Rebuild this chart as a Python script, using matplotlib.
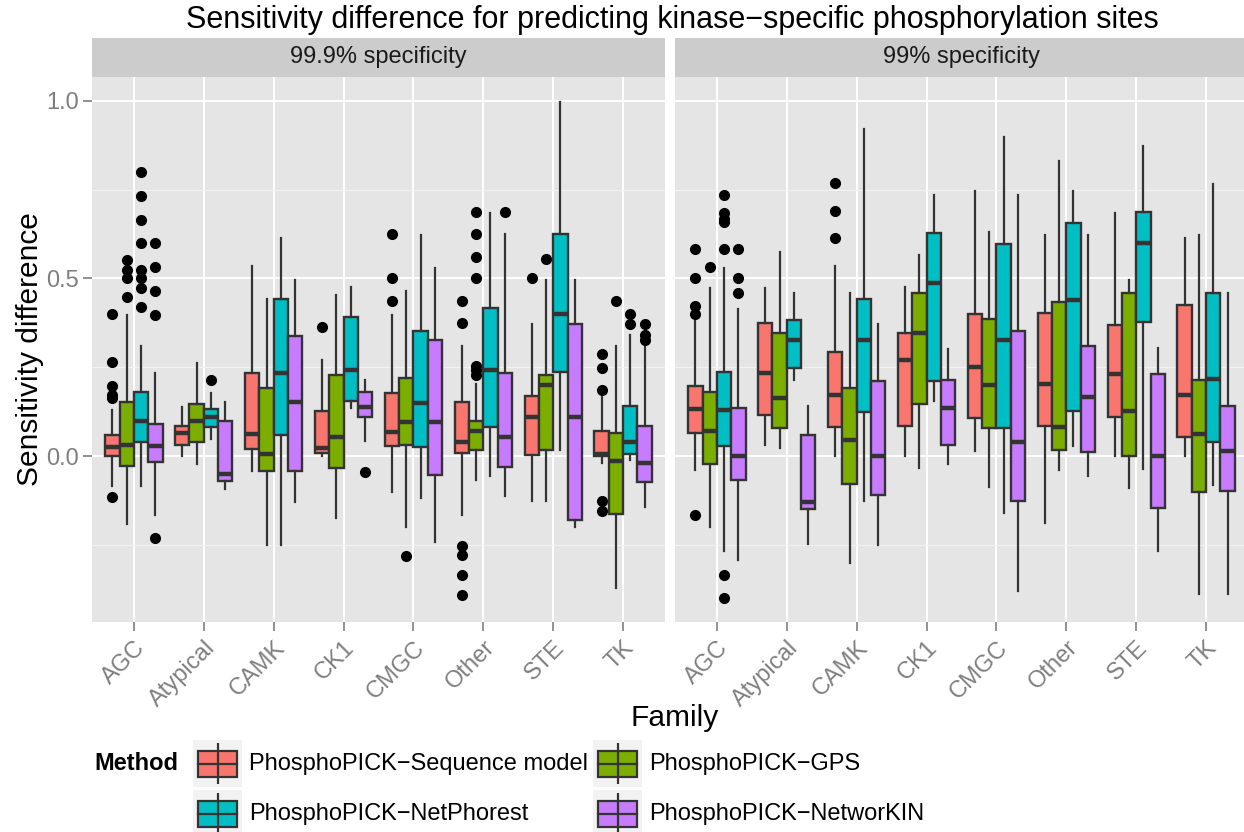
import matplotlib
matplotlib.use("Agg")
import matplotlib.pyplot as plt
from matplotlib.patches import Rectangle

plt.rcParams["font.family"] = ["Liberation Sans", "DejaVu Sans"]

FAMILIES = ["AGC", "Atypical", "CAMK", "CK1", "CMGC", "Other", "STE", "TK"]
METHODS = ["PhosphoPICK\u2212Sequence model", "PhosphoPICK\u2212GPS",
           "PhosphoPICK\u2212NetPhorest", "PhosphoPICK\u2212NetworKIN"]
FACETS = ["99.9% specificity", "99% specificity"]
COLORS = ["#F8766D", "#7CAE00", "#00BFC4", "#C77CFF"]

# five-number summaries per family: (whisker low, q1, median, q3, whisker high)
SEQ_999 = [(-0.083, 0.000, 0.025, 0.060, 0.131), (0.000, 0.032, 0.065, 0.085, 0.137),
           (-0.043, 0.020, 0.062, 0.233, 0.535), (0.000, 0.010, 0.022, 0.128, 0.271),
           (-0.101, 0.027, 0.067, 0.177, 0.397), (-0.167, 0.009, 0.039, 0.153, 0.309),
           (-0.126, 0.002, 0.110, 0.170, 0.372), (-0.020, 0.000, 0.007, 0.072, 0.165)]
GPS_999 = [(-0.192, -0.028, 0.032, 0.151, 0.397), (-0.021, 0.040, 0.098, 0.147, 0.262),
           (-0.249, -0.043, 0.007, 0.191, 0.443), (-0.174, -0.033, 0.054, 0.228, 0.453),
           (-0.199, 0.030, 0.096, 0.221, 0.465), (-0.068, 0.017, 0.072, 0.098, 0.203),
           (-0.126, 0.017, 0.200, 0.228, 0.497), (-0.370, -0.164, -0.013, 0.065, 0.309)]
NET_999 = [(-0.083, 0.039, 0.100, 0.181, 0.309), (0.049, 0.082, 0.111, 0.133, 0.177),
           (-0.249, 0.060, 0.235, 0.443, 0.613), (0.135, 0.156, 0.243, 0.391, 0.477),
           (-0.119, 0.025, 0.150, 0.351, 0.623), (-0.056, 0.082, 0.241, 0.416, 0.684),
           (0.017, 0.238, 0.400, 0.624, 0.996), (-0.010, 0.005, 0.039, 0.141, 0.341)]
KIN_999 = [(-0.167, -0.016, 0.027, 0.090, 0.233), (-0.094, -0.071, -0.051, 0.098, 0.151),
           (-0.129, -0.043, 0.151, 0.339, 0.497), (0.042, 0.111, 0.138, 0.181, 0.213),
           (-0.241, -0.053, 0.095, 0.326, 0.530), (-0.112, -0.030, 0.055, 0.235, 0.624),
           (-0.199, -0.179, 0.110, 0.372, 0.497), (-0.144, -0.073, -0.020, 0.086, 0.319)]

SEQ_99 = [(-0.038, 0.065, 0.133, 0.198, 0.381), (0.030, 0.116, 0.235, 0.374, 0.472),
          (0.000, 0.082, 0.171, 0.292, 0.535), (0.000, 0.085, 0.271, 0.346, 0.477),
          (0.015, 0.108, 0.250, 0.399, 0.746), (-0.187, 0.086, 0.203, 0.402, 0.623),
          (0.000, 0.111, 0.230, 0.368, 0.684), (0.000, 0.055, 0.173, 0.425, 0.614)]
GPS_99 = [(-0.199, -0.023, 0.070, 0.180, 0.472), (0.022, 0.080, 0.163, 0.347, 0.575),
          (-0.302, -0.078, 0.045, 0.191, 0.458), (-0.033, 0.146, 0.347, 0.460, 0.565),
          (-0.086, 0.080, 0.200, 0.387, 0.631), (-0.040, 0.017, 0.082, 0.435, 0.830),
          (-0.089, 0.000, 0.128, 0.460, 0.497), (-0.387, -0.102, 0.062, 0.213, 0.623)]
NET_99 = [(-0.267, 0.027, 0.131, 0.236, 0.530), (0.215, 0.248, 0.327, 0.382, 0.458),
          (-0.126, 0.125, 0.326, 0.443, 0.921), (0.156, 0.211, 0.487, 0.628, 0.736),
          (-0.161, 0.080, 0.327, 0.596, 0.897), (0.027, 0.128, 0.440, 0.656, 0.746),
          (-0.035, 0.377, 0.599, 0.686, 0.872), (-0.081, 0.040, 0.218, 0.460, 0.765)]
KIN_99 = [(-0.292, -0.066, 0.000, 0.136, 0.414), (-0.247, -0.149, -0.129, 0.060, 0.140),
          (-0.249, -0.109, 0.000, 0.210, 0.372), (-0.021, 0.032, 0.136, 0.215, 0.302),
          (-0.380, -0.127, 0.040, 0.351, 0.736), (-0.055, 0.012, 0.166, 0.311, 0.623),
          (-0.268, -0.147, 0.000, 0.230, 0.304), (-0.387, -0.097, 0.015, 0.141, 0.460)]

# outliers, one list per family
SEQ_999_OUT = [[0.40, 0.266, 0.198, 0.171, 0.163, -0.116], [], [], [0.362],
               [0.624, 0.50, 0.437], [0.437, 0.374, -0.252, -0.278, -0.335, -0.39],
               [0.50], [0.286, 0.248, 0.186, -0.126, -0.154]]
GPS_999_OUT = [[0.552, 0.525, 0.50, 0.447], [], [], [], [-0.282],
               [0.686, 0.624, 0.56, 0.50, 0.254, 0.241, 0.228], [0.555], [0.437]]
NET_999_OUT = [[0.80, 0.731, 0.665, 0.599, 0.525, 0.50, 0.473, 0.419], [0.215],
               [], [], [], [], [], [0.40, 0.371]]
KIN_999_OUT = [[0.599, 0.532, 0.465, 0.398, -0.231], [], [], [-0.045], [],
               [0.686], [], [0.371, 0.342, 0.326]]
SEQ_99_OUT = [[0.583, 0.50, 0.423, 0.40, -0.167], [], [0.769, 0.691, 0.615],
              [], [], [], [], []]
GPS_99_OUT = [[0.532], [], [], [], [], [], [], []]
NET_99_OUT = [[0.734, 0.684, 0.666, 0.658, 0.583, -0.335, -0.40], [], [], [], [],
              [], [], []]
KIN_99_OUT = [[0.583, 0.50, 0.46], [], [], [], [], [], [], []]

PANELS = [
    ([SEQ_999, GPS_999, NET_999, KIN_999],
     [SEQ_999_OUT, GPS_999_OUT, NET_999_OUT, KIN_999_OUT]),
    ([SEQ_99, GPS_99, NET_99, KIN_99],
     [SEQ_99_OUT, GPS_99_OUT, NET_99_OUT, KIN_99_OUT]),
]

W, H = 1244, 832
EDGE = "#333333"
GREY = "#7F7F7F"
SMALL = 17
BOX_W = 0.205


def fx(px):
    return px / W


def fy(py):
    return 1 - py / H


def make_stats(summary, outliers):
    stats = []
    for (lo, q1, med, q3, hi), out in zip(summary, outliers):
        stats.append(dict(whislo=lo, q1=q1, med=med, q3=q3, whishi=hi, fliers=out))
    return stats


fig = plt.figure(figsize=(W / 100, H / 100), dpi=100)

panel_boxes = [(92, 573, 8.6), (675, 569, 0.4 + 569 / (573 / 8.2))]
for p, (left, width, xmax) in enumerate(panel_boxes):
    ax = fig.add_axes([fx(left), fy(622), fx(width), (622 - 77) / H])
    ax.set_facecolor("#E5E5E5")
    for s in ax.spines.values():
        s.set_visible(False)
    summaries, outs = PANELS[p]
    for m in range(4):
        pos = [i + 1 + (m - 1.5) * BOX_W for i in range(len(FAMILIES))]
        ax.bxp(make_stats(summaries[m], outs[m]), positions=pos, widths=BOX_W,
               patch_artist=True, showcaps=False, manage_ticks=False,
               boxprops=dict(facecolor=COLORS[m], edgecolor=EDGE, linewidth=1.7),
               medianprops=dict(color=EDGE, linewidth=3.2, solid_capstyle="butt"),
               whiskerprops=dict(color=EDGE, linewidth=1.6),
               flierprops=dict(marker="o", markerfacecolor="black",
                               markeredgecolor="black", markersize=7))
    ax.set_xlim(0.4, xmax)
    ax.set_ylim(-0.467, 1.067)
    ax.set_yticks([0.0, 0.5, 1.0])
    ax.set_yticks([-0.25, 0.25, 0.75], minor=True)
    ax.set_xticks(range(1, len(FAMILIES) + 1))
    ax.set_xticklabels(FAMILIES, rotation=45, ha="right", va="top",
                       rotation_mode="anchor", fontsize=SMALL, color=GREY)
    ax.grid(which="major", color="white", linewidth=1.4)
    ax.grid(which="minor", axis="y", color="#F2F2F2", linewidth=0.8)
    ax.set_axisbelow(True)
    ax.tick_params(axis="x", length=6.5, width=1.2, color=GREY, pad=4)
    ax.tick_params(axis="y", which="minor", length=0)
    if p == 0:
        ax.set_yticklabels(["0.0", "0.5", "1.0"], fontsize=SMALL, color=GREY)
        ax.tick_params(axis="y", length=6.5, width=1.2, color=GREY, pad=3)
    else:
        ax.tick_params(axis="y", which="both", length=0, labelleft=False)

    strip = fig.add_axes([fx(left), fy(77), fx(width), 39 / H])
    strip.set_facecolor("#CCCCCC")
    strip.set_xticks([])
    strip.set_yticks([])
    for s in strip.spines.values():
        s.set_visible(False)
    strip.text(573 / 2 / width, 0.5, FACETS[p], transform=strip.transAxes,
               ha="center", va="center", fontsize=SMALL, color="#1A1A1A")

fig.text(fx(672), fy(20), "Sensitivity difference for predicting kinase\u2212specific "
         "phosphorylation sites", ha="center", va="center", fontsize=22)
fig.text(fx(30), fy(349), "Sensitivity difference", rotation=90,
         ha="center", va="center", fontsize=21.5)
fig.text(fx(675), fy(718), "Family", ha="center", va="center", fontsize=21.5)

# legend drawn on a full-figure overlay in pixel units
ov = fig.add_axes([0, 0, 1, 1])
ov.set_xlim(0, W)
ov.set_ylim(H, 0)
ov.axis("off")
ov.text(94, 764, "Method", ha="left", va="center", fontsize=SMALL, fontweight="bold")
key_x = [193, 593]
key_y = [740, 790]
for m, label in enumerate(METHODS):
    kx = key_x[m % 2]
    ky = key_y[m // 2]
    ov.add_patch(Rectangle((kx, ky), 49, 47, facecolor="#F2F2F2", edgecolor="none"))
    cx = kx + 24.5
    ov.plot([cx, cx], [ky + 3, ky + 44], color=EDGE, lw=1.6, solid_capstyle="butt")
    ov.add_patch(Rectangle((kx + 5, ky + 11), 39, 26, facecolor=COLORS[m],
                           edgecolor=EDGE, lw=1.6))
    ov.plot([kx + 5, kx + 44], [ky + 24, ky + 24], color=EDGE, lw=1.6)
    ov.text(kx + 56, ky + 24, label, ha="left", va="center", fontsize=SMALL)

fig.savefig("out.png", dpi=100)
